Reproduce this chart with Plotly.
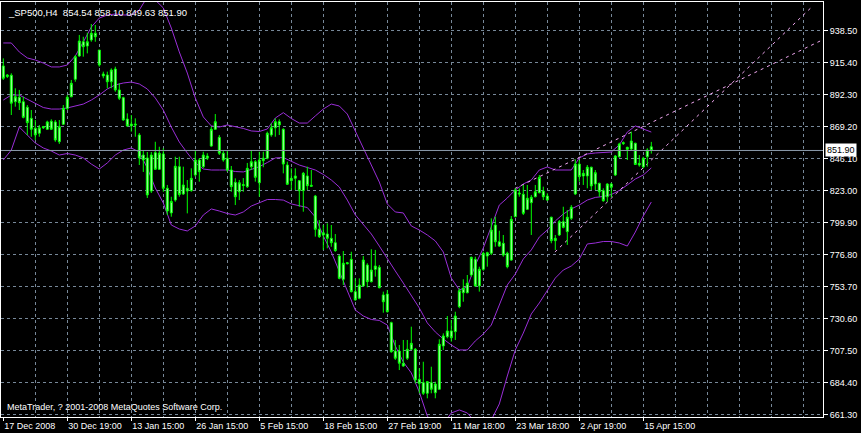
import plotly.graph_objects as go

# ---------------- data ----------------
symbol_title = "_SP500,H4  854.54 858.10 849.63 851.90"
copyright_text = "MetaTrader, ? 2001-2008 MetaQuotes Software Corp."

date_labels = ["17 Dec 2008", "30 Dec 19:00", "13 Jan 15:00", "26 Jan 15:00", "5 Feb 15:00",
               "18 Feb 15:00", "27 Feb 19:00", "11 Mar 18:00", "23 Mar 18:00", "2 Apr 19:00",
               "15 Apr 15:00"]
date_label_bars = [0, 16, 32, 48, 64, 80, 96, 112, 128, 144, 160]
price_ticks = [661.30, 684.40, 707.50, 730.60, 753.70, 776.80, 799.90, 823.00, 846.10,
               869.20, 892.30, 915.40, 938.50]

open_ = [912.9, 905.3, 906.2, 887.1, 890.3, 887.1, 883.1, 875.1, 867.9, 864.3,
         868.3, 867.2, 873.0, 872.5, 858.2, 870.8, 882.3, 890.7, 903.3, 920.1,
         930.4, 927.3, 931.7, 936.5, 924.4, 907.1, 906.4, 901.5, 910.7, 895.6,
         890.0, 874.6, 869.6, 871.0, 863.1, 848.6, 846.5, 822.6, 850.3, 838.3,
         849.4, 824.6, 806.8, 816.1, 840.2, 820.5, 824.6, 822.9, 834.2, 845.0,
         840.2, 847.9, 855.1, 867.2, 861.4, 849.9, 846.3, 837.8, 828.9, 822.1,
         827.3, 825.8, 840.2, 843.8, 828.6, 844.5, 846.3, 863.1, 868.3, 872.7,
         867.2, 841.4, 830.1, 831.8, 830.1, 822.9, 833.5, 826.8, 819.0, 795.0,
         790.9, 791.6, 788.5, 785.3, 775.7, 758.9, 770.1, 773.3, 750.0, 745.2,
         754.1, 769.2, 757.2, 766.1, 767.6, 747.6, 748.3, 727.6, 707.1, 707.1,
         698.3, 701.9, 708.4, 708.4, 686.7, 684.3, 676.6, 684.3, 677.0, 679.5,
         710.8, 717.5, 721.6, 721.1, 739.1, 749.2, 749.2, 762.0, 773.3, 754.1,
         766.1, 775.7, 777.7, 798.1, 786.0, 784.9, 777.7, 772.8, 804.1, 821.2,
         820.3, 809.4, 814.2, 818.5, 821.4, 822.6, 819.0, 803.7, 786.8, 790.9,
         800.5, 793.3, 802.9, 820.5, 842.1, 833.5, 833.5, 839.8, 827.7, 828.2,
         822.9, 818.5, 827.7, 834.2, 847.4, 856.8, 854.2, 853.0, 857.1, 841.4,
         840.0, 847.4, 854.54]
high = [918.4, 907.1, 907.6, 896.8, 895.6, 890.7, 884.7, 881.1, 873.9, 870.3,
        869.6, 873.4, 874.4, 873.9, 873.9, 884.7, 891.9, 902.8, 920.8, 935.3,
        934.0, 936.9, 943.2, 942.5, 924.4, 908.8, 908.8, 911.2, 912.4, 900.4,
        890.7, 878.7, 877.5, 875.1, 864.5, 852.2, 850.8, 850.8, 858.2, 854.6,
        853.5, 827.0, 818.5, 847.4, 847.4, 840.2, 830.6, 839.0, 852.2, 846.3,
        851.0, 849.9, 869.1, 878.2, 863.1, 851.7, 852.2, 840.7, 831.8, 830.6,
        832.0, 842.9, 852.2, 845.0, 851.0, 851.0, 865.5, 871.5, 875.1, 874.4,
        867.9, 843.8, 839.0, 839.0, 830.6, 836.4, 840.2, 837.8, 819.8, 801.7,
        798.1, 799.3, 798.1, 791.6, 776.4, 779.3, 771.2, 778.8, 759.6, 759.6,
        775.7, 770.5, 780.6, 780.1, 769.2, 750.0, 751.2, 728.3, 715.1, 711.5,
        715.1, 715.1, 724.7, 709.3, 694.7, 699.4, 685.5, 695.8, 685.0, 715.6,
        719.9, 732.4, 729.5, 735.5, 752.4, 758.9, 762.0, 775.2, 775.2, 768.0,
        778.8, 778.8, 802.9, 804.1, 794.0, 790.9, 778.8, 804.6, 824.6, 824.6,
        827.0, 827.0, 819.8, 827.0, 834.2, 825.8, 821.0, 804.1, 790.9, 801.7,
        811.3, 808.9, 812.5, 845.5, 845.0, 837.8, 841.4, 840.2, 837.8, 828.6,
        824.6, 828.2, 828.6, 848.6, 857.5, 858.4, 854.6, 865.5, 857.5, 848.6,
        847.4, 853.5, 858.10]
low = [902.8, 904.2, 877.5, 883.5, 881.1, 875.1, 863.1, 861.8, 859.5, 861.8,
       867.4, 866.7, 866.7, 858.2, 856.6, 870.3, 881.1, 890.3, 901.5, 919.6,
       919.6, 922.0, 930.4, 930.4, 912.4, 904.0, 896.8, 896.8, 894.3, 888.3,
       873.4, 869.1, 865.5, 861.8, 841.4, 836.4, 817.6, 821.2, 837.8, 837.8,
       822.1, 805.3, 804.1, 814.9, 818.5, 819.8, 806.5, 822.1, 833.0, 829.4,
       839.0, 845.0, 854.6, 866.7, 848.6, 843.8, 836.6, 822.1, 812.5, 816.1,
       822.1, 824.8, 837.8, 829.4, 818.5, 839.8, 845.5, 861.8, 861.8, 863.1,
       835.4, 827.0, 823.4, 823.4, 811.3, 807.7, 823.4, 825.8, 789.7, 788.7,
       780.1, 781.3, 782.4, 778.8, 758.9, 754.8, 769.7, 749.4, 743.5, 744.5,
       753.6, 753.1, 756.6, 760.8, 752.4, 734.8, 734.9, 705.9, 700.7, 693.4,
       695.8, 700.7, 707.9, 683.8, 676.6, 675.4, 673.0, 676.6, 673.0, 679.0,
       707.9, 716.3, 713.9, 715.1, 738.0, 742.7, 748.8, 760.8, 753.6, 750.0,
       765.1, 768.0, 776.4, 782.4, 782.4, 775.2, 766.8, 772.3, 803.7, 818.5,
       805.3, 808.9, 790.9, 818.1, 821.0, 816.1, 815.6, 784.9, 780.1, 790.2,
       795.7, 783.7, 801.7, 819.8, 829.4, 827.0, 824.6, 823.4, 823.4, 818.5,
       814.9, 814.9, 818.1, 833.5, 846.7, 855.9, 845.0, 852.2, 841.4, 840.2,
       839.0, 840.2, 849.63]
close = [904.0, 906.4, 886.0, 890.7, 886.4, 875.8, 872.0, 867.2, 863.1, 868.3,
         869.1, 872.5, 867.2, 859.5, 869.1, 882.3, 890.3, 900.4, 919.6, 930.9,
         926.8, 930.4, 936.5, 934.0, 913.6, 905.7, 901.5, 910.0, 895.6, 889.6,
         873.9, 869.6, 871.0, 870.3, 846.5, 845.0, 819.8, 848.6, 838.3, 849.9,
         824.6, 808.2, 815.1, 840.5, 820.1, 827.0, 822.6, 831.8, 845.0, 836.6,
         848.6, 846.3, 867.2, 872.7, 849.9, 845.0, 837.8, 825.8, 818.5, 828.6,
         826.6, 839.0, 843.8, 832.5, 845.0, 846.3, 864.3, 868.3, 872.7, 870.3,
         842.1, 827.5, 831.8, 833.5, 822.9, 835.4, 826.5, 826.1, 795.0, 789.7,
         792.5, 788.5, 785.3, 779.6, 759.6, 770.5, 770.8, 750.0, 744.0, 754.8,
         772.8, 757.2, 765.6, 768.5, 752.8, 742.7, 735.5, 706.6, 701.9, 698.3,
         696.3, 708.4, 712.7, 686.2, 683.8, 676.6, 685.0, 679.5, 683.3, 712.0,
         718.0, 721.6, 716.7, 732.4, 750.7, 752.4, 756.0, 774.8, 754.1, 766.1,
         777.7, 778.1, 794.5, 786.0, 782.9, 776.4, 768.0, 802.2, 823.4, 820.5,
         806.5, 817.4, 818.1, 822.1, 832.5, 818.5, 816.1, 786.8, 788.5, 800.5,
         796.4, 803.7, 810.9, 842.1, 833.0, 835.4, 839.8, 826.3, 835.9, 822.1,
         815.6, 827.7, 825.3, 847.9, 856.6, 857.5, 852.7, 858.7, 841.8, 842.6,
         846.3, 852.2, 851.90]

# Bollinger bands, read every second bar
band_bars = list(range(0, 163, 2))
upper_band = [929.5, 929.5, 923.0, 918.7, 917.2, 915.0, 912.2, 912.2, 913.6, 920.1,
              930.2, 941.0, 947.5, 949.7, 950.4, 949.7, 949.7, 953.3, 962.7, 960.5,
              954.8, 940.3, 923.0, 907.8, 889.8, 876.1, 869.6, 868.8, 870.3, 869.2,
              867.8, 866.0, 865.6, 867.4, 875.3, 879.2, 875.0, 871.7, 871.7, 876.8,
              881.8, 885.4, 884.0, 878.2, 866.0, 853.7, 842.1, 829.1, 813.3, 807.5,
              806.8, 797.4, 794.5, 790.9, 786.6, 778.6, 759.8, 751.2, 753.4, 769.2,
              781.5, 797.4, 812.5, 817.6, 823.4, 827.7, 830.6, 837.8, 840.0, 837.8,
              837.8, 837.8, 846.5, 849.4, 850.1, 850.4, 850.8, 855.9, 865.2, 869.6,
              867.4, 865.2]
middle_band = [888.3, 891.9, 891.9, 889.1, 886.2, 882.9, 881.8, 881.8, 882.6, 884.0,
               885.4, 888.3, 891.9, 896.3, 899.2, 900.6, 901.3, 899.9, 896.3, 889.8,
               881.1, 868.8, 858.0, 850.1, 842.9, 838.5, 837.8, 837.8, 837.8, 836.7,
               836.4, 838.2, 840.2, 843.2, 846.5, 846.8, 843.9, 841.4, 839.6, 837.8,
               834.6, 830.6, 825.5, 816.1, 805.4, 798.8, 791.6, 782.9, 773.6, 764.9,
               756.2, 747.6, 738.2, 727.4, 720.9, 715.8, 711.5, 707.9, 707.9, 714.4,
               719.4, 725.9, 741.1, 754.8, 762.7, 773.6, 780.1, 789.4, 794.5, 801.0,
               806.0, 809.7, 812.5, 816.1, 818.0, 818.7, 820.1, 823.0, 827.0, 831.3,
               834.2, 839.3]
lower_band = [845.0, 852.2, 868.8, 863.1, 857.3, 853.7, 851.5, 848.6, 849.7, 848.6,
              846.5, 842.1, 838.5, 842.9, 848.6, 852.2, 853.7, 850.8, 839.2, 824.8,
              814.0, 798.1, 795.2, 793.8, 797.4, 805.3, 809.7, 808.2, 806.4, 805.3,
              807.5, 811.8, 814.0, 816.5, 816.5, 816.1, 813.3, 811.8, 810.7, 803.9,
              790.2, 778.6, 764.2, 751.2, 736.7, 732.4, 729.9, 729.2, 725.9, 710.8,
              699.2, 691.3, 677.6, 660.2, 653.0, 654.5, 662.4, 664.6, 662.4, 655.9,
              653.7, 657.3, 668.9, 689.1, 707.9, 720.1, 733.9, 741.8, 750.5, 759.8,
              765.6, 768.5, 773.5, 784.4, 785.1, 786.2, 786.2, 785.1, 782.9, 793.0,
              804.6, 814.7]

# trend lines: (bar, price) anchor pairs
trend1_bars = [127.9, 204.2]
trend1_prices = [824.45, 930.9]
trend2_bars = [137.9, 202.2]
trend2_prices = [778.6, 955.7]

# ---------------- figure ----------------
FONT = "Liberation Sans"
GRID = "#778899"
BAND = "#9a2ed8"
x_range = [-0.575, 204.925]
y_range = [659.5, 959.08]

fig = go.Figure()

for vals in (upper_band, middle_band, lower_band):
    fig.add_trace(go.Scatter(x=band_bars, y=vals, mode="lines",
                             line=dict(color=BAND, width=1), hoverinfo="skip",
                             showlegend=False, xaxis="x", yaxis="y"))

for bx, py in ((trend1_bars, trend1_prices), (trend2_bars, trend2_prices)):
    fig.add_trace(go.Scatter(x=bx, y=py, mode="lines",
                             line=dict(color="#f0a8f0", width=1, dash="3px,4px"),
                             hoverinfo="skip", showlegend=False, xaxis="x", yaxis="y"))

fig.add_trace(go.Candlestick(
    x=list(range(len(close))), open=open_, high=high, low=low, close=close,
    increasing=dict(line=dict(color="#00ff00", width=1), fillcolor="#b8ffb8"),
    decreasing=dict(line=dict(color="#00ff00", width=1), fillcolor="#b8ffb8"),
    whiskerwidth=0, showlegend=False, xaxis="x2", yaxis="y"))

fig.add_hline(y=close[-1], line=dict(color="#8a9aaa", width=1))

fig.update_layout(
    width=861, height=433,
    margin=dict(l=1, r=38, t=2, b=16, pad=0),
    paper_bgcolor="black", plot_bgcolor="black",
    font=dict(family=FONT, size=9, color="white"),
    showlegend=False,
    xaxis=dict(range=x_range, tickmode="array",
               tickvals=list(range(8, 205, 8)), showticklabels=False, ticks="",
               showgrid=True, gridcolor=GRID, griddash="3px,3px", gridwidth=1,
               zeroline=False, showline=False, rangeslider=dict(visible=False),
               fixedrange=True),
    xaxis2=dict(range=x_range, overlaying="x", anchor="y", side="bottom",
                tickmode="array", tickvals=date_label_bars, ticktext=date_labels,
                ticks="outside", ticklen=3, tickcolor="white", tickwidth=1,
                ticklabelposition="outside right",
                tickfont=dict(family=FONT, size=9, color="white"),
                showgrid=False, zeroline=False, showline=True, linecolor="white",
                linewidth=1, mirror=True, rangeslider=dict(visible=False),
                fixedrange=True),
    yaxis=dict(range=y_range, side="right", tickmode="array",
               tickvals=price_ticks, ticktext=[f"{v:.2f}" for v in price_ticks],
               ticks="outside", ticklen=4, tickcolor="white", tickwidth=1,
               tickfont=dict(family=FONT, size=9, color="white"),
               showgrid=True, gridcolor=GRID, griddash="3px,3px", gridwidth=1,
               zeroline=False, showline=True, linecolor="white", linewidth=1,
               mirror=True, fixedrange=True),
)

fig.add_annotation(text=symbol_title, xref="paper", yref="paper", x=0, y=1,
                   xanchor="left", yanchor="top", xshift=5, yshift=-3,
                   showarrow=False, font=dict(family=FONT, size=9.5, color="white"))
fig.add_annotation(text=copyright_text, xref="paper", yref="paper", x=0, y=0,
                   xanchor="left", yanchor="bottom", xshift=4, yshift=3,
                   showarrow=False, font=dict(family=FONT, size=9, color="white"))
fig.add_annotation(text=f"{close[-1]:.2f}", xref="paper", yref="y", x=1, y=close[-1],
                   xanchor="left", yanchor="middle", xshift=2, showarrow=False,
                   bgcolor="white", borderpad=1,
                   font=dict(family=FONT, size=9, color="black"))

fig.write_html("out.html", config={"displayModeBar": False},
               post_script="document.body.style.margin='0';"
                           "document.body.style.overflow='hidden';")
